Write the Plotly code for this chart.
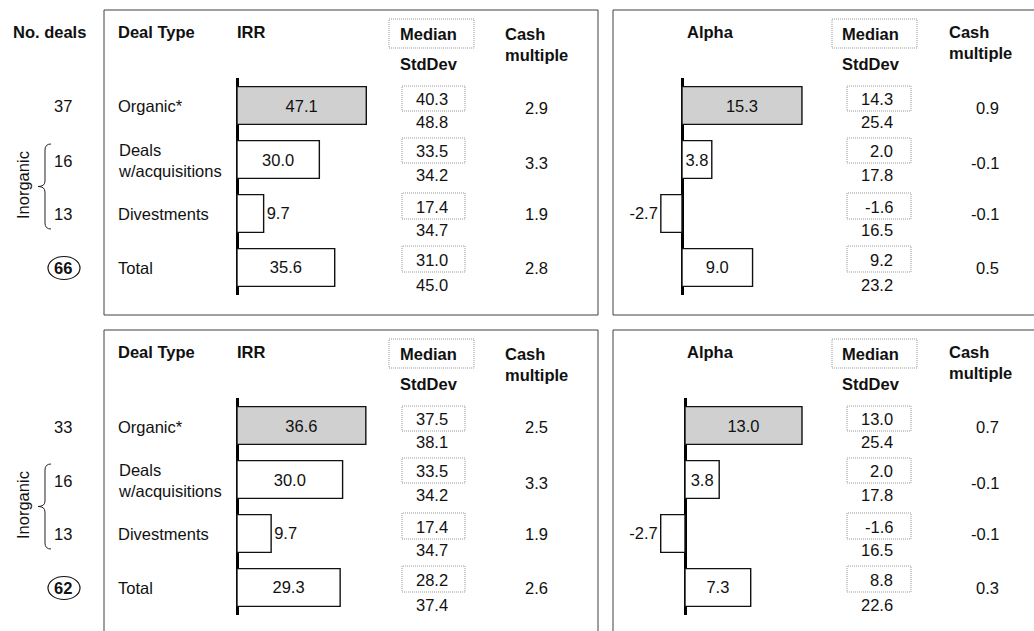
import plotly.graph_objects as go

W, H = 1034, 631

# ---------------- data ----------------
deal_types = ["Organic*", "Deals<br>w/acquisitions", "Divestments", "Total"]
no_deals_top = [37, 16, 13, 66]
no_deals_bottom = [33, 16, 13, 62]

irr_top = [47.1, 30.0, 9.7, 35.6]
irr_median_top = [40.3, 33.5, 17.4, 31.0]
irr_std_top = [48.8, 34.2, 34.7, 45.0]
irr_cash_top = [2.9, 3.3, 1.9, 2.8]

alpha_top = [15.3, 3.8, -2.7, 9.0]
alpha_median_top = [14.3, 2.0, -1.6, 9.2]
alpha_std_top = [25.4, 17.8, 16.5, 23.2]
alpha_cash_top = [0.9, -0.1, -0.1, 0.5]

irr_bottom = [36.6, 30.0, 9.7, 29.3]
irr_median_bottom = [37.5, 33.5, 17.4, 28.2]
irr_std_bottom = [38.1, 34.2, 34.7, 37.4]
irr_cash_bottom = [2.5, 3.3, 1.9, 2.6]

alpha_bottom = [13.0, 3.8, -2.7, 7.3]
alpha_median_bottom = [13.0, 2.0, -1.6, 8.8]
alpha_std_bottom = [25.4, 17.8, 16.5, 22.6]
alpha_cash_bottom = [0.7, -0.1, -0.1, 0.3]

# ---------------- helpers ----------------
FONT = "Liberation Sans, Arial, sans-serif"
FS = 16.5
LABEL_POS = ["inside", "inside", "outside", "inside"]
BAR_FILL = ["#d0d0d0", "white", "white", "white"]


def fx(px):
    return px / W


def fy(py):
    return 1 - py / H


annotations = []
shapes = []


def ann(x, y, text, xanchor="center", bold=False, size=FS, angle=0, align="center"):
    annotations.append(dict(
        x=fx(x), y=fy(y), xref="paper", yref="paper", text=("<b>%s</b>" % text) if bold else text,
        showarrow=False, xanchor=xanchor, yanchor="middle", textangle=angle, align=align,
        font=dict(family=FONT, size=size, color="#111"), borderpad=0,
    ))


def rect(x0, y0, x1, y1, color="#404040", width=1, dash="solid"):
    shapes.append(dict(type="rect", xref="paper", yref="paper",
                       x0=fx(x0), x1=fx(x1), y0=fy(y1), y1=fy(y0),
                       line=dict(color=color, width=width, dash=dash), layer="below"))


def fmt(v):
    return "%.1f" % v


fig = go.Figure()

# bar subplots: (values, axis id, zero px, px per unit, x range, y offset)
bar_specs = [
    (irr_top, 1, 237, 2.745, (-2, 58), 0),
    (alpha_top, 2, 682, 7.84, (-5, 18), 0),
    (irr_bottom, 3, 237, 3.52, (-2, 45), 320),
    (alpha_bottom, 4, 685, 9.0, (-5, 16), 320),
]

layout_axes = {}
for vals, k, zero_px, scale, rng, off in bar_specs:
    left = zero_px + rng[0] * scale
    right = zero_px + rng[1] * scale
    fig.add_trace(go.Bar(
        x=vals, y=[0, 1, 2, 3], orientation="h", width=0.7,
        marker=dict(color=BAR_FILL, line=dict(color="#111", width=1.4)),
        text=[fmt(v) for v in vals], textposition=LABEL_POS,
        insidetextanchor="middle",
        insidetextfont=dict(family=FONT, size=FS, color="#111"),
        outsidetextfont=dict(family=FONT, size=FS, color="#111"),
        textangle=0, cliponaxis=False, constraintext="none",
        hoverinfo="skip",
        xaxis="x%d" % k, yaxis="y%d" % k,
    ))
    xname = "xaxis" if k == 1 else "xaxis%d" % k
    yname = "yaxis" if k == 1 else "yaxis%d" % k
    layout_axes[xname] = dict(
        domain=[fx(left), fx(right)], range=list(rng), anchor="y%d" % k,
        showgrid=False, showticklabels=False, ticks="", showline=False,
        zeroline=True, zerolinecolor="#000", zerolinewidth=3, fixedrange=True,
    )
    layout_axes[yname] = dict(
        domain=[fy(295 + off), fy(78 + off)], range=[3.51, -0.51], anchor="x%d" % k,
        showgrid=False, showticklabels=False, ticks="", showline=False,
        zeroline=False, fixedrange=True,
    )

# ---------------- panel frames ----------------
rect(104, 10, 598, 315)
rect(613, 10, 1040, 315)
rect(104, 330, 598, 640)
rect(613, 330, 1040, 640)

# ---------------- table text ----------------
row_y = [106.5, 160.5, 214, 268]
box_y = [(86, 111), (138, 163), (193, 219), (246, 272)]
std_y = [122, 175, 230, 285]
cash_y = [107.5, 162.5, 214, 268]
DOT = "1px,1px"

sections = [
    (0, no_deals_top, irr_median_top, irr_std_top, irr_cash_top,
     alpha_median_top, alpha_std_top, alpha_cash_top, True),
    (320, no_deals_bottom, irr_median_bottom, irr_std_bottom, irr_cash_bottom,
     alpha_median_bottom, alpha_std_bottom, alpha_cash_bottom, False),
]

for off, nd, im, isd, ic, am, asd, ac, first in sections:
    if first:
        ann(12, 32 + off, "No. deals", xanchor="left", bold=True)
    ann(117, 32 + off, "Deal Type", xanchor="left", bold=True)
    ann(236, 32 + off, "IRR", xanchor="left", bold=True)
    ann(686, 32 + off, "Alpha", xanchor="left", bold=True)
    for bx0, bx1, tx, cx, cy in [(389, 474, 399, 504, 44), (832, 917, 841, 948, 42)]:
        rect(bx0, 19 + off, bx1, 48 + off, color="#999", dash=DOT)
        ann(tx, 34 + off, "Median", xanchor="left", bold=True)
        ann(tx, 64 + off, "StdDev", xanchor="left", bold=True)
        ann(cx, cy + off, "Cash<br>multiple", xanchor="left", bold=True, align="left")

    # No. deals column
    for i in range(4):
        ann(63, row_y[i] + off, str(nd[i]), bold=(i == 3))
        ann(117, row_y[i] + off, deal_types[i], xanchor="left", align="left")
    shapes.append(dict(type="circle", xref="paper", yref="paper",
                       x0=fx(48), x1=fx(80), y0=fy(279.5 + off), y1=fy(256.5 + off),
                       line=dict(color="#111", width=1.2)))
    # brace
    pts = [(51, 144), (45, 144), (45, 150), (45, 181), (45, 186.5), (38, 186.5),
           (45, 186.5), (45, 192), (45, 223), (45, 229), (51, 229)]
    P = [(fx(a), fy(b + off)) for a, b in pts]
    path = ("M %f,%f Q %f,%f %f,%f L %f,%f Q %f,%f %f,%f Q %f,%f %f,%f L %f,%f Q %f,%f %f,%f" % (
        P[0] + P[1] + P[2] + P[3] + P[4] + P[5] + P[6] + P[7] + P[8] + P[9] + P[10]))
    shapes.append(dict(type="path", xref="paper", yref="paper", path=path,
                       line=dict(color="#222", width=1)))
    ann(23, 185 + off, "Inorganic", angle=-90)

    # median / stddev / cash
    for (bx0, bx1, rx, cashx, med, sd, cash) in [
        (402, 465, 449, 549, im, isd, ic),
        (847, 911, 894, 1000, am, asd, ac),
    ]:
        for i in range(4):
            y0, y1 = box_y[i]
            rect(bx0, y0 + off, bx1, y1 + off, color="#999", dash=DOT)
            ann(rx, (y0 + y1) / 2 + 0.5 + off, fmt(med[i]), xanchor="right")
            ann(rx, std_y[i] + off, fmt(sd[i]), xanchor="right")
            ann(cashx, cash_y[i] + off, fmt(cash[i]), xanchor="right")

fig.update_layout(
    width=W, height=H, autosize=False,
    margin=dict(l=0, r=0, t=0, b=0, pad=0),
    paper_bgcolor="white", plot_bgcolor="rgba(0,0,0,0)",
    showlegend=False, bargap=0.3,
    annotations=annotations, shapes=shapes,
    font=dict(family=FONT, size=FS, color="#111"),
    **layout_axes,
)

fig.write_html(
    "out.html",
    config={"displayModeBar": False},
    post_script="document.body.style.margin='0';document.body.style.overflow='hidden';",
)
